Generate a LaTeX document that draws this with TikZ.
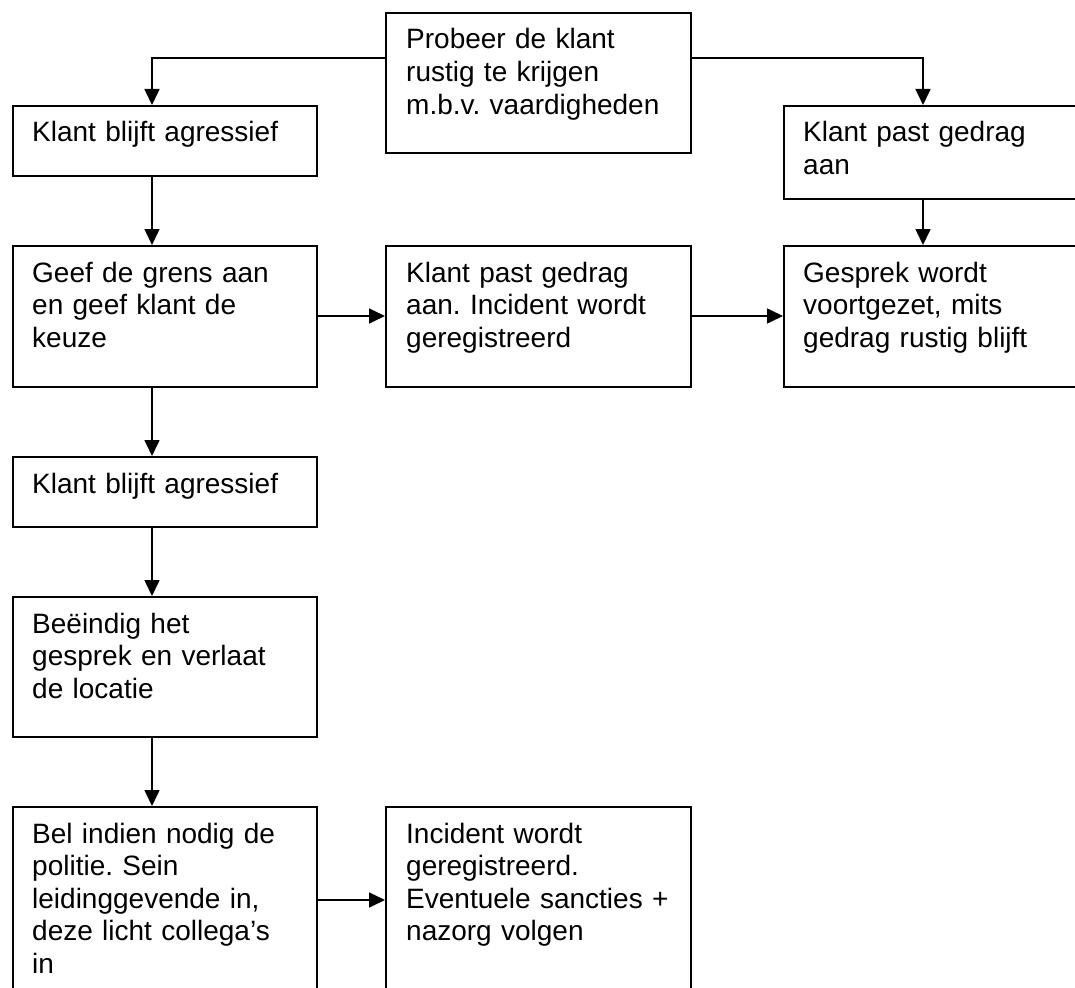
\documentclass[tikz,border=0pt]{standalone}
\usepackage{fontspec}
\setmainfont{Liberation Sans}
\usetikzlibrary{calc,arrows.meta}
\frenchspacing
\begin{document}
\begin{tikzpicture}[x=1pt,y=-1pt,
  box/.style={draw,line width=1.8pt,rectangle,anchor=north west,inner sep=0pt},
  txt/.style={anchor=base west,inner sep=0pt,align=left,text width=330pt,
    font=\fontsize{28}{32.6}\selectfont},
  arr/.style={line width=1.6pt,-{Triangle[length=16pt,width=15pt]}}]
\useasboundingbox (0,0) rectangle (1075,987);
\clip (0,0) rectangle (1075,987);
% boxes
\node[box,minimum width=305pt,minimum height=140pt] (p) at (385,12) {};
\node[box,minimum width=304pt,minimum height=70pt] (k1) at (12,105) {};
\node[box,minimum width=310pt,minimum height=93pt] (r1) at (783,105) {};
\node[box,minimum width=304pt,minimum height=141pt] (g) at (12,245) {};
\node[box,minimum width=305pt,minimum height=141pt] (m) at (385,245) {};
\node[box,minimum width=310pt,minimum height=141pt] (r2) at (783,245) {};
\node[box,minimum width=304pt,minimum height=70pt] (k2) at (12,456) {};
\node[box,minimum width=304pt,minimum height=140pt] (b) at (12,596) {};
\node[box,minimum width=304pt,minimum height=200pt] (bel) at (12,806) {};
\node[box,minimum width=305pt,minimum height=200pt] (inc) at (385,806) {};
% texts
\node[txt] (tp) at ($(p.north west)+(21,37)$) {Probeer de klant\\rustig te krijgen\\m.b.v. vaardigheden};
\node[txt] (tk1) at ($(k1.north west)+(20,37)$) {Klant blijft agressief};
\node[txt] (tr1) at ($(r1.north west)+(20,37)$) {Klant past gedrag\\aan};
\node[txt] (tg) at ($(g.north west)+(20,37)$) {Geef de grens aan\\en geef klant de\\keuze};
\node[txt] (tm) at ($(m.north west)+(21,37)$) {Klant past gedrag\\aan. Incident wordt\\geregistreerd};
\node[txt] (tr2) at ($(r2.north west)+(20,37)$) {Gesprek wordt\\voortgezet, mits\\gedrag rustig blijft};
\node[txt] (tk2) at ($(k2.north west)+(20,37)$) {Klant blijft agressief};
\node[txt] (tb) at ($(b.north west)+(20,37)$) {Beëindig het\\gesprek en verlaat\\de locatie};
\node[txt] (tbel) at ($(bel.north west)+(20,37)$) {Bel indien nodig de\\politie. Sein\\leidinggevende in,\\deze licht collega’s\\in};
\node[txt] (tinc) at ($(inc.north west)+(21,37)$) {Incident wordt\\geregistreerd.\\Eventuele sancties +\\nazorg volgen};
% connectors
\draw[arr] ($(p.north west)+(0,46)$) -| ($(k1.north west)+(140,0)$);
\draw[arr] ($(p.north east)+(0,46)$) -| ($(r1.north west)+(140,0)$);
\draw[arr] ($(k1.south west)+(140,0)$) -- ($(g.north west)+(140,0)$);
\draw[arr] ($(r1.south west)+(140,0)$) -- ($(r2.north west)+(140,0)$);
\draw[arr] ($(g.north east)+(0,71)$) -- ($(m.north west)+(0,71)$);
\draw[arr] ($(m.north east)+(0,71)$) -- ($(r2.north west)+(0,71)$);
\draw[arr] ($(g.south west)+(140,0)$) -- ($(k2.north west)+(140,0)$);
\draw[arr] ($(k2.south west)+(140,0)$) -- ($(b.north west)+(140,0)$);
\draw[arr] ($(b.south west)+(140,0)$) -- ($(bel.north west)+(140,0)$);
\draw[arr] ($(bel.north east)+(0,94)$) -- ($(inc.north west)+(0,94)$);
\end{tikzpicture}
\end{document}
